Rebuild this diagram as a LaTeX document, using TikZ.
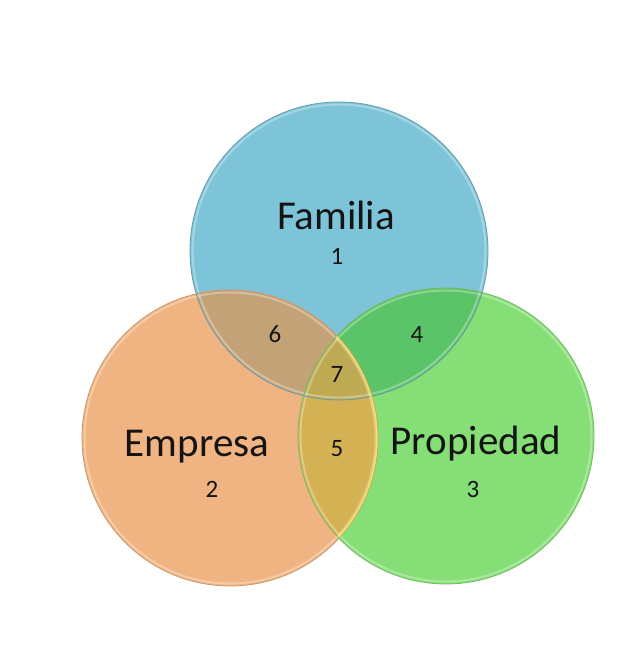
\documentclass[tikz,border=0pt]{standalone}
\usepackage{fontspec}
\setmainfont{Carlito}
\definecolor{famcol}{RGB}{126,196,216}
\definecolor{empcol}{RGB}{240,180,130}
\definecolor{procol}{RGB}{134,222,118}
\definecolor{csix}{RGB}{196,162,120}
\definecolor{cfour}{RGB}{92,196,104}
\definecolor{cfive}{RGB}{212,178,84}
\definecolor{cseven}{RGB}{190,170,82}
\definecolor{txt}{RGB}{20,20,20}
\tikzset{
  big/.style={font=\fontsize{41}{45}\selectfont, text=txt, anchor=base, inner sep=0pt},
  num/.style={font=\fontsize{25}{28}\selectfont, text=txt, anchor=base, inner sep=0pt},
  rim/.style={draw=#1, line width=0.8pt},
  glow/.style={draw=white, draw opacity=0.3, line width=2pt}
}
\begin{document}
\begin{tikzpicture}[x=1pt,y=1pt]
\useasboundingbox[fill=white] (0,0) rectangle (619,660);
\coordinate (F) at (339,409);
\coordinate (E) at (230,222);
\coordinate (P) at (446,224);
% base fills
\fill[famcol] (F) circle (149);
\fill[empcol] (E) circle (148);
\fill[procol] (P) circle (148);
% overlaps
\begin{scope}\clip (F) circle (149); \fill[csix] (E) circle (148);\end{scope}
\begin{scope}\clip (F) circle (149); \fill[cfour] (P) circle (148);\end{scope}
\begin{scope}\clip (E) circle (148); \fill[cfive] (P) circle (148);\end{scope}
\begin{scope}\clip (F) circle (149); \clip (E) circle (148); \fill[cseven] (P) circle (148);\end{scope}
% rims
\draw[glow] (F) circle (146.5);
\draw[glow] (E) circle (145.5);
\draw[glow] (P) circle (145.5);
\draw[rim=famcol!80!black] (F) circle (149);
\draw[rim=empcol!85!black] (E) circle (148);
\draw[rim=procol!85!black] (P) circle (148);
\begin{scope}\clip (P) circle (148);
\draw[draw=yellow!60!white, draw opacity=0.7, line width=1.5pt] (E) circle (147);
\end{scope}
% labels
\node[big] (tfam) at (336,430) {Familia};
\node[num] (n1) at (337,395) {1};
\node[big] (temp) at (197,203) {Empresa};
\node[num] (n2) at (212,162) {2};
\node[big] (tpro) at (476,205) {Propiedad};
\node[num] (n3) at (473,162) {3};
\node[num] (n6) at (275,317) {6};
\node[num] (n4) at (417,317) {4};
\node[num] (n7) at (337,277) {7};
\node[num] (n5) at (337,203) {5};
\end{tikzpicture}
\end{document}
